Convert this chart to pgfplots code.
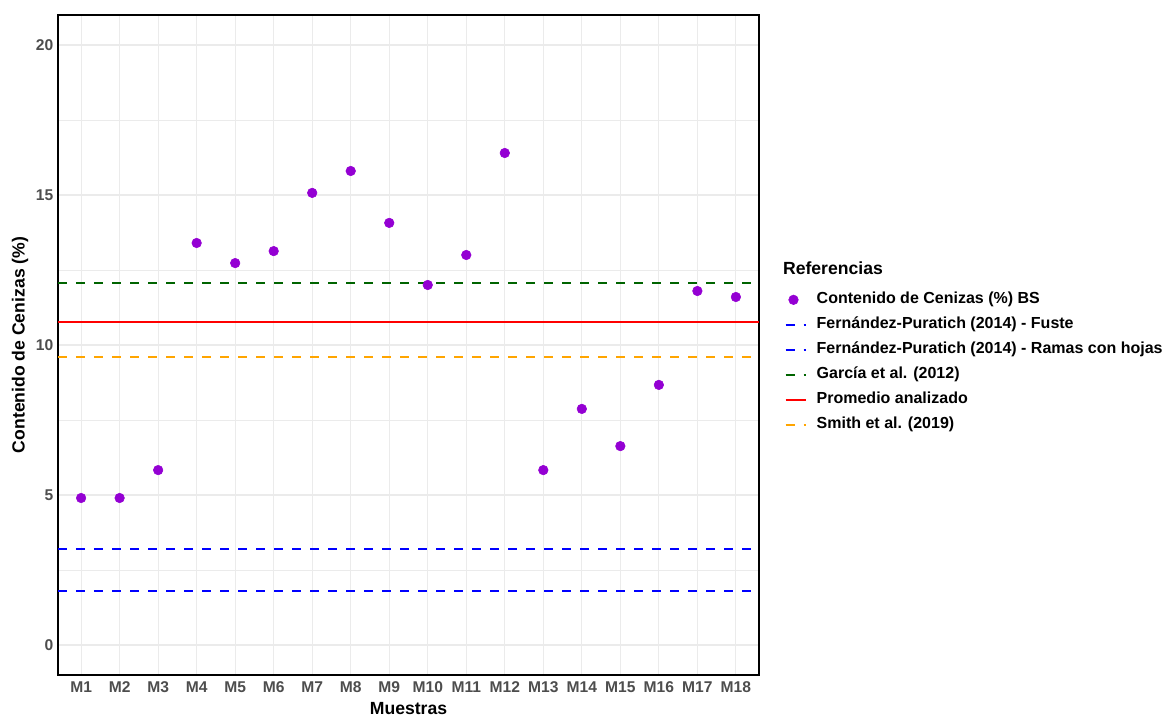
\documentclass[border=0pt]{standalone}
\usepackage{pgfplots}
\pgfplotsset{compat=1.18}
\usepackage{fontspec}
\setmainfont{Liberation Sans}
\definecolor{pts}{HTML}{9400D3}
\definecolor{gtick}{HTML}{4D4D4D}
\definecolor{dgreen}{HTML}{006400}
\definecolor{orng}{HTML}{FFA500}
\begin{document}
\begin{tikzpicture}
\begin{axis}[
  at={(0,0)}, anchor=south west,
  scale only axis, width=525.75pt, height=495pt,
  xmin=0.4, xmax=18.6, ymin=-1, ymax=21,
  clip=false,
  xtick={1,...,18},
  xticklabels={M1,M2,M3,M4,M5,M6,M7,M8,M9,M10,M11,M12,M13,M14,M15,M16,M17,M18},
  ytick={0,5,10,15,20},
  minor ytick={2.5,7.5,12.5,17.5},
  grid=both,
  major grid style={draw=black!8, line width=0.8pt},
  minor grid style={draw=black!8, line width=0.6pt},
  major tick length=0pt, minor tick length=0pt,
  axis line style={black, line width=1.1pt},
  /pgf/number format/assume math mode=true,
  ticklabel style={font=\fontsize{11.7}{14}\selectfont\bfseries, text=gtick},
  xticklabel style={yshift=-1.5pt},
  xlabel={Muestras}, ylabel={Contenido de Cenizas (\%)},
  label style={font=\fontsize{13.2}{15}\selectfont\bfseries, text=black},
  xlabel style={at={(axis description cs:0.5,-0.0515)}, anchor=center},
  ylabel style={at={(axis description cs:-0.0542,0.5)}, anchor=center},
  legend style={at={(axis description cs:1.030,0.585)}, anchor=north west,
    draw=none, fill=none, font=\fontsize{12}{14}\selectfont\bfseries,
    row sep=6.75pt, column sep=7.5pt,
    nodes={inner sep=0pt, text height=9pt, text depth=3pt}},
  legend cell align=left,
  legend image code/.code={\draw[#1] (0pt,0pt) -- (15pt,0pt);},
]
\addplot[only marks, mark=*, mark size=3.6pt, color=pts,
  legend image code/.code={\fill[pts] (6pt,0pt) circle (3.6pt);}]
  coordinates {(1,4.9) (2,4.9) (3,5.83) (4,13.4) (5,12.73) (6,13.13)
    (7,15.07) (8,15.8) (9,14.07) (10,12.0) (11,13.0) (12,16.4)
    (13,5.83) (14,7.87) (15,6.63) (16,8.67) (17,11.8) (18,11.6)};
\addlegendentry{Contenido de Cenizas (\%) BS}
\addplot[blue, line width=1.8pt, dash pattern=on 7pt off 6.5pt]
  coordinates {(0.4,3.2) (18.6,3.2)};
\addlegendentry{Fernández-Puratich (2014) - Fuste}
\addplot[blue, line width=1.8pt, dash pattern=on 7pt off 6.5pt]
  coordinates {(0.4,1.8) (18.6,1.8)};
\addlegendentry{Fernández-Puratich (2014) - Ramas con hojas}
\addplot[dgreen, line width=1.8pt, dash pattern=on 7pt off 6.5pt]
  coordinates {(0.4,12.07) (18.6,12.07)};
\addlegendentry{García et al. (2012)}
\addplot[red, line width=1.8pt]
  coordinates {(0.4,10.77) (18.6,10.77)};
\addlegendentry{Promedio analizado}
\addplot[orng, line width=1.8pt, dash pattern=on 7pt off 6.5pt]
  coordinates {(0.4,9.6) (18.6,9.6)};
\addlegendentry{Smith et al. (2019)}
\node[anchor=west, inner sep=0pt, font=\fontsize{13.2}{15}\selectfont\bfseries]
  at (axis description cs:1.034,0.6167) {Referencias};
\end{axis}
\pgfresetboundingbox
\path (-43.5pt,-31.5pt) rectangle (828.75pt,506.25pt);
\end{tikzpicture}
\end{document}
